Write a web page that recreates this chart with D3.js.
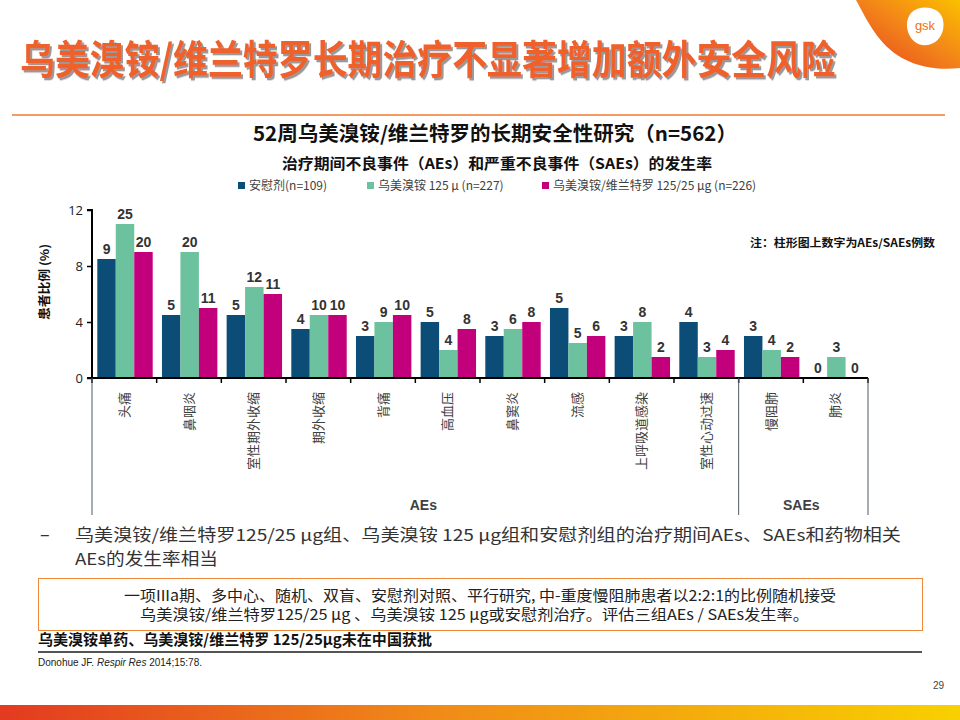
<!DOCTYPE html>
<html><head><meta charset="utf-8">
<script src="https://cdn.jsdelivr.net/npm/d3@7/dist/d3.min.js"></script>
<style>body{margin:0;background:#fff} svg{display:block}</style>
</head><body>
<svg id="c" width="960" height="720"></svg>
<script>
// ---------- data ----------
const categories = ["头痛","鼻咽炎","室性期外收缩","期外收缩","背痛","高血压","鼻窦炎","流感","上呼吸道感染","室性心动过速","慢阻肺","肺炎"];
const seriesNames = ["安慰剂(n=109)","乌美溴铵 125 μ (n=227)","乌美溴铵/维兰特罗 125/25 μg (n=226)"];
const placeboPct = [8.5,4.5,4.5,3.5,3,4,3,5,3,4,3,0];
const umecPct    = [11,9,6.5,4.5,4,2,3.5,2.5,4,1.5,2,1.5];
const umecViPct  = [9,5,6,4.5,4.5,3.5,4,3,1.5,2,1.5,0];
const placeboN = [9,5,5,4,3,5,3,5,3,4,3,0];
const umecN    = [25,20,12,10,9,4,6,5,8,3,4,3];
const umecViN  = [20,11,11,10,10,8,8,6,2,4,2,0];
const yTicks = [0,4,8,12];
const groupNames = ["AEs","SAEs"];
const groupSizes = [10,2];
const colors = ["#0c4d78","#6cc19f","#c2007b"];

(function(){
const svg = d3.select("#c");
const CJK = "'Noto Sans CJK SC','Noto Sans',sans-serif";
const defs = svg.append("defs");

// ---------- decorations ----------
const g1 = defs.append("linearGradient").attr("id","logoG").attr("x1","1").attr("y1","0").attr("x2","0").attr("y2","1");
g1.append("stop").attr("offset","0").attr("stop-color","#fbc000");
g1.append("stop").attr("offset","0.5").attr("stop-color","#f2801a");
g1.append("stop").attr("offset","1").attr("stop-color","#e5401f");
svg.append("path").attr("d","M856 0 C868 22 878 44 902 58 C922 69 944 70 960 68 L960 0 Z").attr("fill","url(#logoG)");
svg.append("path").attr("d","M911 13 C920 4 940 6 943 20 C946 35 935 47 922 45 C909 43 902 24 911 13 Z").attr("fill","#fff");
svg.append("text").attr("x",925).attr("y",30).attr("text-anchor","middle").attr("font-family","'Liberation Sans',sans-serif").attr("font-size",13).attr("fill","#f07020").text("gsk");

const g2 = defs.append("linearGradient").attr("id","barG").attr("x1","0").attr("y1","0").attr("x2","1").attr("y2","0");
g2.append("stop").attr("offset","0").attr("stop-color","#e33a20");
g2.append("stop").attr("offset","0.45").attr("stop-color","#f08a18");
g2.append("stop").attr("offset","1").attr("stop-color","#f8d000");
svg.append("rect").attr("x",0).attr("y",705).attr("width",960).attr("height",15).attr("fill","url(#barG)");

// title with shadow filter (font sized to natural width, stretched vertically)
const f = defs.append("filter").attr("id","sh").attr("x","-5%").attr("y","-20%").attr("width","110%").attr("height","140%");
f.append("feDropShadow").attr("dx",2).attr("dy",2).attr("stdDeviation",0.6).attr("flood-color","#808080").attr("flood-opacity",0.8);
svg.append("text").attr("transform","translate(20,74) scale(1,1.15)").attr("font-family",CJK).attr("font-weight","bold").attr("font-size",34.8)
  .attr("textLength",816).attr("lengthAdjust","spacingAndGlyphs").attr("fill","#f0602a").attr("filter","url(#sh)")
  .text("乌美溴铵/维兰特罗长期治疗不显著增加额外安全风险");
svg.append("line").attr("x1",12).attr("x2",945).attr("y1",115).attr("y2",115).attr("stroke","#f07a30").attr("stroke-width",1.5);

// subtitles
svg.append("text").attr("x",253).attr("y",141).attr("font-family",CJK).attr("font-weight","bold").attr("font-size",20)
  .attr("textLength",484).attr("lengthAdjust","spacingAndGlyphs").attr("fill","#111").text("52周乌美溴铵/维兰特罗的长期安全性研究（n=562）");
svg.append("text").attr("x",282).attr("y",169).attr("font-family",CJK).attr("font-weight","bold").attr("font-size",15)
  .attr("textLength",430).attr("lengthAdjust","spacingAndGlyphs").attr("fill","#111").text("治疗期间不良事件（AEs）和严重不良事件（SAEs）的发生率");

// legend
const legendX = [238,367,542];
seriesNames.forEach((n,i)=>{
  svg.append("rect").attr("x",legendX[i]).attr("y",182).attr("width",7).attr("height",7).attr("fill",colors[i]);
  svg.append("text").attr("x",legendX[i]+11).attr("y",190).attr("font-family",CJK).attr("font-size",12).attr("fill","#404040").text(n);
});

// note
svg.append("text").attr("x",750).attr("y",247).attr("font-family",CJK).attr("font-weight","bold").attr("font-size",11)
  .attr("textLength",185).attr("lengthAdjust","spacingAndGlyphs").attr("fill","#111").text("注：柱形图上数字为AEs/SAEs例数");

// ---------- chart ----------
const pLeft = 92, pRight = 868, pTop = 210, pBottom = 378;
const x = d3.scaleBand().domain(categories).range([pLeft,pRight]).paddingInner(0).paddingOuter(0);
const xs = d3.scaleBand().domain([0,1,2]).range([5.3,60.7]).paddingInner(0);
const y = d3.scaleLinear().domain([0,12]).range([pBottom,pTop]);

const pct = [placeboPct, umecPct, umecViPct];
const cnt = [placeboN, umecN, umecViN];
const bars = [];
categories.forEach((c,ci)=>{ [0,1,2].forEach(si=>bars.push({c, si, v:pct[si][ci], n:cnt[si][ci]})); });

svg.append("g").selectAll("rect").data(bars).join("rect")
  .attr("x",d=>x(d.c)+xs(d.si)).attr("width",xs.bandwidth())
  .attr("y",d=>y(d.v)).attr("height",d=>y(0)-y(d.v)).attr("fill",d=>colors[d.si]);

svg.append("g").selectAll("text").data(bars).join("text")
  .attr("x",d=>x(d.c)+xs(d.si)+xs.bandwidth()/2).attr("y",d=>y(d.v)-5)
  .attr("text-anchor","middle").attr("font-family","'Liberation Sans',Arial,sans-serif").attr("font-weight","bold")
  .attr("font-size",14).attr("fill","#333").text(d=>d.n);

// y axis
const yAxis = svg.append("g").attr("transform",`translate(${pLeft},0)`)
  .call(d3.axisLeft(y).tickValues(yTicks).tickSize(5).tickPadding(4));
yAxis.select(".domain").attr("stroke","#000").attr("stroke-width",2).attr("d",`M-5,${pTop}H0V${pBottom}H-5`);
yAxis.selectAll(".tick line").attr("stroke","#000").attr("stroke-width",1.5);
yAxis.selectAll(".tick text").attr("font-family","'Open Sans','Liberation Sans',sans-serif").attr("font-size",13).attr("fill","#222");

// x axis
const xAxis = svg.append("g").attr("transform",`translate(0,${pBottom})`)
  .call(d3.axisBottom(x).tickSize(0).tickFormat(""));
xAxis.select(".domain").attr("stroke","#000").attr("stroke-width",2).attr("d",`M${pLeft},0H${pRight}`);
const bounds = categories.map(c=>x(c)).concat([pRight]);
svg.append("g").selectAll("line").data(bounds).join("line")
  .attr("x1",d=>d).attr("x2",d=>d).attr("y1",pBottom).attr("y2",pBottom+5).attr("stroke","#000").attr("stroke-width",1.5);

// category labels (vertical)
svg.append("g").selectAll("text").data(categories).join("text")
  .attr("transform",d=>`translate(${x(d)+x.bandwidth()/2},392) rotate(-90)`)
  .attr("text-anchor","end").attr("dy","0.36em")
  .attr("font-family",CJK).attr("font-size",13).attr("fill","#404040").text(d=>d);

// group separators and labels
let idx = 0;
const groupEdges = [pLeft];
groupSizes.forEach(s=>{ idx += s; groupEdges.push(x(categories[idx-1]) + x.bandwidth()); });
svg.append("g").selectAll("line").data(groupEdges).join("line")
  .attr("x1",d=>d).attr("x2",d=>d).attr("y1",pBottom).attr("y2",515).attr("stroke","#505a66").attr("stroke-width",1);
svg.append("g").selectAll("text").data(groupNames).join("text")
  .attr("x",(d,i)=>(groupEdges[i]+groupEdges[i+1])/2 + (i===0?8:-2)).attr("y",510)
  .attr("text-anchor","middle").attr("font-family","'Liberation Sans',sans-serif").attr("font-weight","bold")
  .attr("font-size",14).attr("fill","#404040").text(d=>d);

// y label
svg.append("text").attr("transform","translate(45,282) rotate(-90)").attr("text-anchor","middle").attr("dy","0.35em")
  .attr("font-family",CJK).attr("font-weight","bold").attr("font-size",12)
  .attr("textLength",76).attr("lengthAdjust","spacingAndGlyphs").attr("fill","#111").text("患者比例 (%)");

// ---------- bottom texts ----------
svg.append("text").attr("x",40).attr("y",541).attr("font-family",CJK).attr("font-size",18).attr("fill","#333").text("–");
svg.append("text").attr("x",75).attr("y",541).attr("font-family",CJK).attr("font-size",16.5).attr("fill","#333")
  .attr("textLength",826).attr("lengthAdjust","spacingAndGlyphs")
  .text("乌美溴铵/维兰特罗125/25 μg组、乌美溴铵 125 μg组和安慰剂组的治疗期间AEs、SAEs和药物相关");
svg.append("text").attr("x",75).attr("y",565).attr("font-family",CJK).attr("font-size",16.5).attr("fill","#333")
  .attr("textLength",143).attr("lengthAdjust","spacingAndGlyphs")
  .text("AEs的发生率相当");

svg.append("rect").attr("x",38.5).attr("y",578.5).attr("width",884).attr("height",52).attr("fill","none").attr("stroke","#f08a3a").attr("stroke-width",1);
const boxText = svg.append("text").attr("font-family",CJK).attr("font-size",15).attr("fill","#222");
boxText.append("tspan").attr("x",124).attr("y",601).attr("textLength",712).attr("lengthAdjust","spacingAndGlyphs")
  .text("一项IIIa期、多中心、随机、双盲、安慰剂对照、平行研究, 中-重度慢阻肺患者以2:2:1的比例随机接受");
boxText.append("tspan").attr("x",140).attr("y",620).attr("textLength",669).attr("lengthAdjust","spacingAndGlyphs")
  .text("乌美溴铵/维兰特罗125/25 μg 、乌美溴铵 125 μg或安慰剂治疗。评估三组AEs / SAEs发生率。");

svg.append("text").attr("x",38).attr("y",645).attr("font-family",CJK).attr("font-weight","bold").attr("font-size",15)
  .attr("textLength",394).attr("lengthAdjust","spacingAndGlyphs").attr("fill","#111")
  .text("乌美溴铵单药、乌美溴铵/维兰特罗 125/25μg未在中国获批");
svg.append("line").attr("x1",38).attr("x2",922).attr("y1",652).attr("y2",652).attr("stroke","#555").attr("stroke-width",2);

const ref = svg.append("text").attr("x",38).attr("y",666).attr("font-family","'Liberation Sans Narrow','Liberation Sans',sans-serif").attr("font-size",10).attr("fill","#222");
ref.append("tspan").text("Donohue JF. ");
ref.append("tspan").attr("font-style","italic").text("Respir Res");
ref.append("tspan").text(" 2014;15:78.");

svg.append("text").attr("x",944).attr("y",689).attr("text-anchor","end").attr("font-family","'Liberation Sans Narrow','Liberation Sans',sans-serif").attr("font-size",10).attr("fill","#444").text("29");
})();
</script>
</body></html>
